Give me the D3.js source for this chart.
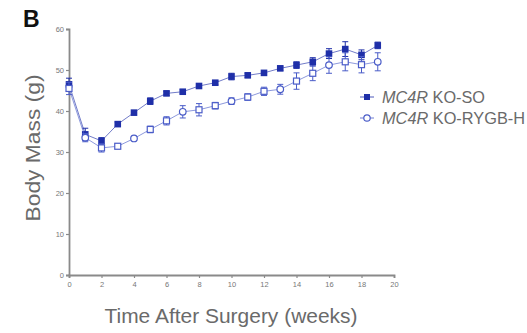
<!DOCTYPE html>
<html><head><meta charset="utf-8">
<script src="https://cdn.jsdelivr.net/npm/d3@7"></script>
<style>body{margin:0;background:#fff}svg{display:block}text{font-family:"Liberation Sans",Arial,sans-serif}</style>
</head><body><svg id="c" width="527" height="333"></svg>
<script>
const weeks = [0,1,2,3,4,5,6,7,8,9,10,11,12,13,14,15,16,17,18,19];
const soMean = [46.5,34.3,32.7,36.8,39.6,42.4,44.3,44.7,46.1,46.9,48.4,48.7,49.3,50.4,51.2,52,54,55.1,53.7,56];
const soErr  = [1.5,1.5,0.8,0.5,0.5,0.8,0.5,0.5,0.5,0.5,0.8,0.5,0.5,0.5,0.8,1,1.2,1.8,1.2,0.8];
const rygbMean = [45.5,33.5,31,31.4,33.3,35.5,37.6,39.8,40.3,41.3,42.4,43.4,44.8,45.3,47.3,49.2,51.2,52,51.3,52];
const rygbErr  = [1.5,1,1,0.5,0.5,0.8,1,1.5,1.5,0.8,0.8,0.8,1,1.2,2,1.8,2,2.2,2,2.2];
const xTicks = [0,2,4,6,8,10,12,14,16,18,20];
const yTicks = [0,10,20,30,40,50,60];
const seriesNames = ["KO-SO","KO-RYGB-H"];

const svg = d3.select("#c");
const x = d3.scaleLinear().domain([0,20]).range([69,394]);
const y = d3.scaleLinear().domain([0,60]).range([275,29]);
const axisCol = "#8a8a8a", textCol = "#6a6a6a";

const gx = svg.append("g").attr("transform","translate(0,275)")
  .call(d3.axisBottom(x).tickValues(xTicks).tickSize(3).tickPadding(4));
const gy = svg.append("g").attr("transform","translate(69,0)")
  .call(d3.axisLeft(y).tickValues(yTicks).tickSize(3).tickPadding(2));
[gx,gy].forEach(g=>{
  g.select(".domain").attr("stroke",axisCol).attr("stroke-width",1.8);
  g.selectAll(".tick line").attr("stroke",axisCol).attr("stroke-width",1.2);
  g.selectAll(".tick text").attr("fill","#777").style("font-size","7.5px");
});

const cols = ["#1f2fa8","#4a5cc8"];
const series = [
  {m:soMean,e:soErr,c:cols[0],filled:true},
  {m:rygbMean,e:rygbErr,c:cols[1],filled:false}
];
const line = d3.line().x((d,i)=>x(weeks[i])).y(d=>y(d));
series.forEach((s,si)=>{
  const g = svg.append("g");
  g.append("path").datum(s.m).attr("d",line).attr("fill","none")
    .attr("stroke",s.c).attr("stroke-width",0.9).attr("opacity",0.7);
  weeks.forEach((w,i)=>{
    const cx=x(w), y1=y(s.m[i]+s.e[i]), y2=y(s.m[i]-s.e[i]);
    g.append("line").attr("x1",cx).attr("x2",cx).attr("y1",y1).attr("y2",y2).attr("stroke",s.c).attr("stroke-width",1);
    [y1,y2].forEach(yy=>g.append("line").attr("x1",cx-3).attr("x2",cx+3).attr("y1",yy).attr("y2",yy).attr("stroke",s.c).attr("stroke-width",1));
    const cy=y(s.m[i]);
    if(s.filled){
      g.append("rect").attr("x",cx-3.3).attr("y",cy-3.3).attr("width",6.6).attr("height",6.6).attr("fill",s.c);
    } else if(i%3===1){
      g.append("circle").attr("cx",cx).attr("cy",cy).attr("r",3.3).attr("fill","#fff").attr("stroke",s.c).attr("stroke-width",1.2);
    } else {
      g.append("rect").attr("x",cx-3).attr("y",cy-3).attr("width",6).attr("height",6).attr("fill","#fff").attr("stroke",s.c).attr("stroke-width",1.2);
    }
  });
});

// legend
const lg = svg.append("g");
lg.append("line").attr("x1",360).attr("x2",374).attr("y1",97).attr("y2",97).attr("stroke",cols[0]).attr("stroke-width",0.8);
lg.append("rect").attr("x",364).attr("y",94).attr("width",6).attr("height",6).attr("fill",cols[0]);
lg.append("line").attr("x1",360).attr("x2",374).attr("y1",118).attr("y2",118).attr("stroke",cols[1]).attr("stroke-width",0.8);
lg.append("circle").attr("cx",367).attr("cy",118).attr("r",3.2).attr("fill","#fff").attr("stroke",cols[1]).attr("stroke-width",1.2);
[[97,seriesNames[0],103],[118,seriesNames[1],143]].forEach(([yy,t,L])=>{
  const tx = lg.append("text").attr("x",382).attr("y",yy+6).attr("fill",textCol).style("font-size","16px")
    .attr("textLength",L).attr("lengthAdjust","spacingAndGlyphs");
  tx.append("tspan").attr("font-style","italic").text("MC4R");
  tx.append("tspan").text(" "+t);
});

svg.append("text").attr("x",23).attr("y",27).text("B").style("font-size","23px").attr("font-weight","bold").attr("fill","#111");
svg.append("text").attr("transform","translate(40,148) rotate(-90)").attr("text-anchor","middle")
  .attr("fill",textCol).style("font-size","20px").attr("textLength",147).attr("lengthAdjust","spacingAndGlyphs").text("Body Mass (g)");
svg.append("text").attr("x",231).attr("y",323).attr("text-anchor","middle")
  .attr("fill",textCol).style("font-size","21px").attr("textLength",253).attr("lengthAdjust","spacingAndGlyphs").text("Time After Surgery (weeks)");
</script></body></html>
